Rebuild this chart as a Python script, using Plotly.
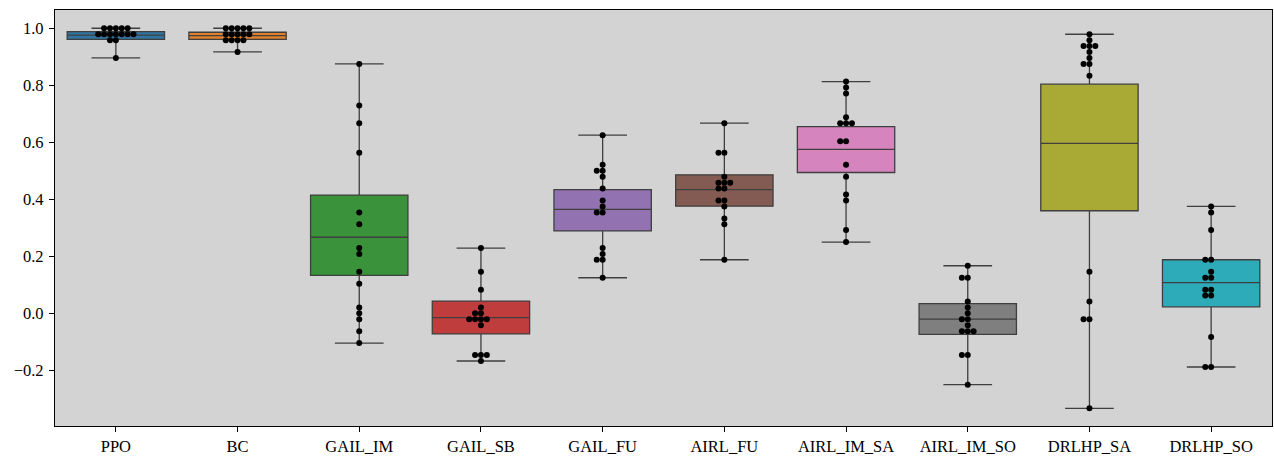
import numpy as np
import plotly.graph_objects as go

categories = ["PPO", "BC", "GAIL_IM", "GAIL_SB", "GAIL_FU", "AIRL_FU",
              "AIRL_IM_SA", "AIRL_IM_SO", "DRLHP_SA", "DRLHP_SO"]

# swarm points per category
ppo = [1.0, 1.0, 1.0, 1.0, 1.0, 0.979, 0.979, 0.979, 0.979, 0.979, 0.979, 0.979, 0.958, 0.958, 0.896]
bc = [1.0, 1.0, 1.0, 1.0, 1.0, 0.979, 0.979, 0.979, 0.979, 0.979, 0.958, 0.958, 0.958, 0.958, 0.917]
gail_im = [0.875, 0.729, 0.667, 0.563, 0.354, 0.313, 0.229, 0.208, 0.146, 0.104, 0.021, 0.0, -0.021, -0.063, -0.104]
gail_sb = [0.229, 0.146, 0.083, 0.021, 0.0, 0.0, -0.021, -0.021, -0.021, -0.021, -0.042, -0.146, -0.146, -0.146, -0.167]
gail_fu = [0.625, 0.521, 0.5, 0.5, 0.479, 0.438, 0.396, 0.375, 0.354, 0.354, 0.229, 0.208, 0.188, 0.188, 0.125]
airl_fu = [0.667, 0.563, 0.563, 0.479, 0.458, 0.458, 0.458, 0.438, 0.438, 0.396, 0.396, 0.375, 0.333, 0.313, 0.188]
airl_im_sa = [0.813, 0.792, 0.771, 0.688, 0.667, 0.667, 0.667, 0.604, 0.604, 0.521, 0.479, 0.417, 0.396, 0.292, 0.25]
airl_im_so = [0.167, 0.125, 0.125, 0.042, 0.021, 0.0, -0.021, -0.021, -0.042, -0.063, -0.063, -0.063, -0.146, -0.146, -0.25]
drlhp_sa = [0.979, 0.958, 0.938, 0.938, 0.938, 0.917, 0.896, 0.875, 0.875, 0.833, 0.146, 0.042, -0.021, -0.021, -0.333]
drlhp_so = [0.375, 0.354, 0.292, 0.188, 0.188, 0.146, 0.125, 0.125, 0.083, 0.083, 0.063, 0.063, -0.083, -0.188, -0.188]

# box statistics
q1s = [0.961, 0.961, 0.133, -0.072, 0.289, 0.376, 0.494, -0.074, 0.360, 0.023]
medians = [0.976, 0.974, 0.267, -0.015, 0.365, 0.434, 0.575, -0.020, 0.596, 0.108]
q3s = [0.988, 0.986, 0.415, 0.043, 0.434, 0.486, 0.655, 0.034, 0.804, 0.188]
lows = [0.896, 0.917, -0.104, -0.167, 0.125, 0.188, 0.250, -0.250, -0.333, -0.188]
highs = [1.0, 1.0, 0.875, 0.229, 0.625, 0.667, 0.813, 0.167, 0.979, 0.375]

ytick_vals = [-0.2, 0.0, 0.2, 0.4, 0.6, 0.8, 1.0]
ytick_text = ["\u22120.2", "0.0", "0.2", "0.4", "0.6", "0.8", "1.0"]

colors = ["#3274a1", "#e1812c", "#3a923a", "#c03d3e", "#9372b2",
          "#845b53", "#d684bd", "#7f7f7f", "#a9aa35", "#2eabb8"]
line_col = "#3f3f3f"

series = [ppo, bc, gail_im, gail_sb, gail_fu, airl_fu, airl_im_sa, airl_im_so, drlhp_sa, drlhp_so]

W, H = 1274, 456
ML, MR, MT, MB = 55, 2, 10, 30
YR = [-0.395, 1.064]
XR = [-0.5, 9.5]
plot_w = W - ML - MR
plot_h = H - MT - MB
px_x = plot_w / (XR[1] - XR[0])
px_y = plot_h / (YR[1] - YR[0])
DOT = 6
DIAM = 5.6


def swarm_offsets(vals):
    """Simple beeswarm: returns x offsets in data units."""
    ys = np.array(vals) * px_y
    order = np.argsort(ys, kind="stable")
    placed = []
    offs = np.zeros(len(vals))
    for idx in order:
        y = ys[idx]
        neigh = [(xj, yj) for (xj, yj) in placed if abs(y - yj) < DIAM - 1e-6]
        cands = [0.0]
        for xj, yj in neigh:
            dx = np.sqrt(max(DIAM ** 2 - (y - yj) ** 2, 0)) * 1.05
            cands.extend([xj - dx, xj + dx])
        cands = sorted(set(round(c, 6) for c in cands), key=lambda c: (abs(c), c))
        chosen = 0.0
        for c in cands:
            if all((c - xj) ** 2 + (y - yj) ** 2 >= DIAM ** 2 - 1e-6 for xj, yj in neigh):
                chosen = c
                break
        placed.append((chosen, y))
        offs[idx] = chosen / px_x
    return offs


fig = go.Figure()
for i, cat in enumerate(categories):
    fig.add_trace(go.Box(
        x=[i], q1=[q1s[i]], median=[medians[i]], q3=[q3s[i]],
        lowerfence=[lows[i]], upperfence=[highs[i]],
        width=0.8, whiskerwidth=0.5, boxpoints=False,
        fillcolor=colors[i], line=dict(color=line_col, width=1.3),
        name=cat, showlegend=False, hoverinfo="skip",
    ))

xs, ys = [], []
for i, vals in enumerate(series):
    offs = swarm_offsets(vals)
    xs.extend(list(i + offs))
    ys.extend(vals)

fig.add_trace(go.Scatter(
    x=xs, y=ys, mode="markers",
    marker=dict(color="black", size=DOT, line=dict(width=0)),
    showlegend=False, hoverinfo="skip",
))

font = dict(family="Liberation Serif, Times New Roman, serif", size=16.5, color="black")
fig.update_layout(
    width=W, height=H,
    margin=dict(l=ML, r=MR, t=MT, b=MB, pad=0, autoexpand=False),
    paper_bgcolor="white", plot_bgcolor="#d3d3d3",
    font=font, showlegend=False,
    xaxis=dict(range=XR, tickvals=list(range(len(categories))), ticktext=categories,
               showgrid=False, zeroline=False, showline=True, mirror=True,
               linecolor="black", linewidth=1.2, ticks="outside", ticklen=5,
               tickcolor="black", tickwidth=1, tickfont=font, automargin=False),
    yaxis=dict(range=YR, tickvals=ytick_vals, ticktext=ytick_text,
               showgrid=False, zeroline=False, showline=True, mirror=True,
               linecolor="black", linewidth=1.2, ticks="outside", ticklen=5,
               tickcolor="black", tickwidth=1, tickfont=font, automargin=False,
               ticklabelstandoff=2),
)

fig.write_html(
    "out.html",
    config={"responsive": False, "displayModeBar": False},
    post_script="document.body.style.margin='0';document.body.style.overflow='hidden';",
)
